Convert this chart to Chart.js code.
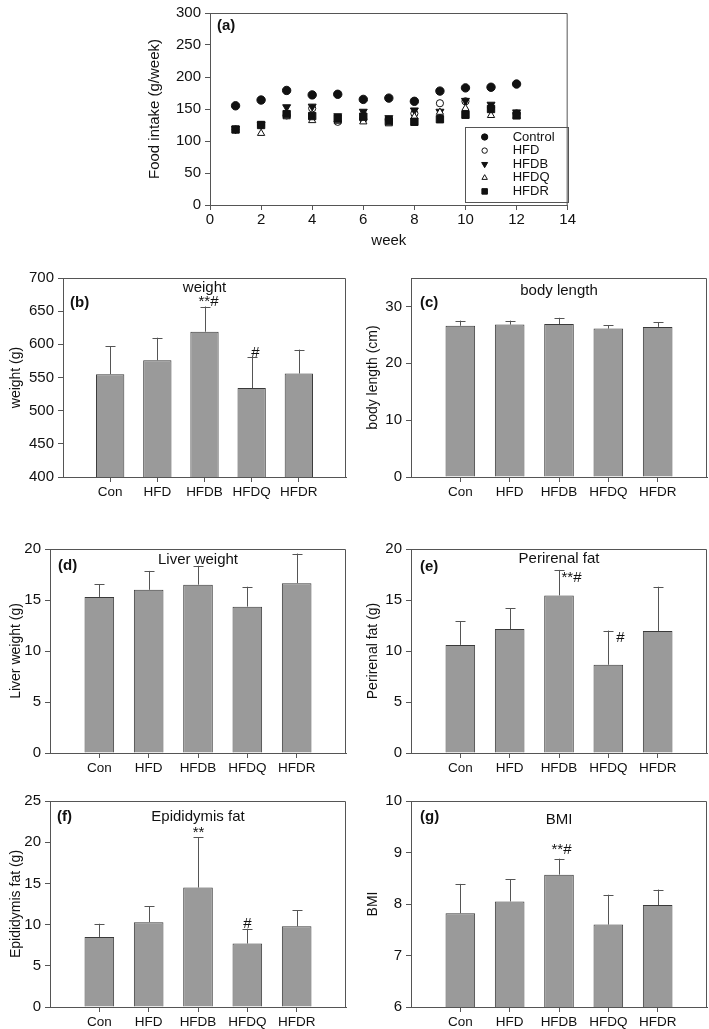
<!DOCTYPE html>
<html>
<head>
<meta charset="utf-8">
<script src="https://cdn.jsdelivr.net/npm/chart.js@4.4.1/dist/chart.umd.min.js"></script>
<style>
body { margin: 0; background: #fff; width: 709px; height: 1029px; position: relative; overflow: hidden; }
canvas { position: absolute; }
</style>
</head>
<body>
<canvas id="chartA" width="447" height="255" style="left:130px;top:0px"></canvas>
<canvas id="chartB" width="350" height="250" style="left:0px;top:265px"></canvas>
<canvas id="chartC" width="354" height="250" style="left:355px;top:265px"></canvas>
<canvas id="chartD" width="350" height="245" style="left:0px;top:536px"></canvas>
<canvas id="chartE" width="354" height="245" style="left:355px;top:536px"></canvas>
<canvas id="chartF" width="350" height="241" style="left:0px;top:788px"></canvas>
<canvas id="chartG" width="354" height="241" style="left:355px;top:788px"></canvas>
<script>
// food intake per week (a)
const weeks   = [1, 2, 3, 4, 5, 6, 7, 8, 9, 10, 11, 12];
const control = [155, 164, 179, 172, 173, 165, 167, 162, 178, 183, 184, 189];
const hfd     = [118, 125, 140, 151, 130, 134, 133, 143, 159, 162, 152, 143];
const hfdb    = [119, 126, 153, 154, 139, 146, 136, 148, 146, 163, 157, 145];
const hfdq    = [117, 112, 138, 132, 131, 130, 127, 138, 145, 151, 140, 139];
const hfdr    = [118, 125, 142, 139, 135, 138, 131, 130, 134, 141, 150, 140];

// bar panels (b)-(g)
const groups = ['Con', 'HFD', 'HFDB', 'HFDQ', 'HFDR'];
const weightMean = [555, 576, 619, 534, 556];
const weightSd   = [42, 34, 38, 47, 36];
const weightSig  = ['', '', '**#', '#', ''];
const lengthMean = [26.6, 26.8, 26.9, 26.1, 26.4];
const lengthSd   = [0.9, 0.7, 1.1, 0.6, 0.8];
const liverMean  = [15.3, 16.0, 16.5, 14.35, 16.65];
const liverSd    = [1.25, 1.85, 1.85, 1.95, 2.9];
const periMean   = [10.6, 12.15, 15.45, 8.65, 11.95];
const periSd     = [2.3, 2.05, 2.5, 3.35, 4.35];
const periSig    = ['', '', '**#', '#', ''];
const epiMean    = [8.5, 10.3, 14.5, 7.7, 9.8];
const epiSd      = [1.6, 1.95, 6.1, 1.8, 1.95];
const epiSig     = ['', '', '**', '#', ''];
const bmiMean    = [7.82, 8.05, 8.57, 7.6, 7.98];
const bmiSd      = [0.57, 0.43, 0.31, 0.58, 0.3];
const bmiSig     = ['', '', '**#', '', ''];

const FONT = '"Liberation Sans", Arial, sans-serif';
const AXIS = '#555';
Chart.defaults.font.family = FONT;
Chart.defaults.color = '#111';
Chart.defaults.animation = false;

function pad(arr) {
    return [null, ...arr, null];
}

// box top + right lines
const frame = {
    id: 'frame',
    afterDraw(chart) {
        const { ctx, chartArea: a } = chart;
        ctx.save();
        ctx.strokeStyle = AXIS;
        ctx.lineWidth = 1;
        ctx.beginPath();
        ctx.moveTo(a.left, a.top + 0.5);
        ctx.lineTo(a.right - 0.5, a.top + 0.5);
        ctx.lineTo(a.right - 0.5, a.bottom);
        ctx.stroke();
        ctx.restore();
    }
};

// panel tag "(x)" and title inside plot
const panelText = {
    id: 'panelText',
    afterDraw(chart, args, opts) {
        const { ctx, chartArea: a } = chart;
        ctx.save();
        ctx.fillStyle = '#111';
        ctx.textBaseline = 'middle';
        ctx.font = 'bold 15px ' + FONT;
        ctx.textAlign = 'left';
        ctx.fillText(opts.tag, a.left + opts.tagX, a.top + opts.tagY);
        if (opts.title) {
            ctx.font = '15px ' + FONT;
            ctx.textAlign = 'center';
            ctx.fillText(opts.title, (a.left + a.right) / 2 + (opts.titleX || 0), a.top + opts.titleY);
        }
        ctx.restore();
    }
};

// upper error bars + significance marks
const errorBars = {
    id: 'errorBars',
    afterDatasetsDraw(chart, args, opts) {
        const ctx = chart.ctx;
        const ys = chart.scales.y;
        const vals = chart.data.datasets[0].data;
        const meta = chart.getDatasetMeta(0);
        ctx.save();
        ctx.strokeStyle = AXIS;
        ctx.lineWidth = 1;
        meta.data.forEach((bar, i) => {
            if (vals[i] == null) return;
            const x = Math.round(bar.x) + 0.5;
            const top = ys.getPixelForValue(vals[i] + opts.sd[i]);
            ctx.beginPath();
            ctx.moveTo(x, bar.y);
            ctx.lineTo(x, top);
            ctx.moveTo(x - 5, Math.round(top) + 0.5);
            ctx.lineTo(x + 5, Math.round(top) + 0.5);
            ctx.stroke();
            const mark = opts.marks ? opts.marks[i] : '';
            if (mark) {
                ctx.fillStyle = '#111';
                ctx.font = '15px ' + FONT;
                ctx.textAlign = 'center';
                ctx.textBaseline = 'bottom';
                ctx.fillText(mark, x + opts.dx, top + 3 + opts.dy);
            }
        });
        ctx.restore();
    }
};

function barChart(id, mean, sd, marks, s) {
    const labels = pad(groups).map(g => g || '');
    new Chart(document.getElementById(id), {
        type: 'bar',
        data: {
            labels: labels,
            datasets: [{
                data: pad(mean),
                backgroundColor: '#9a9a9a',
                borderColor: '#3a3a3a',
                borderWidth: 1,
                categoryPercentage: 1,
                barPercentage: 0.6
            }]
        },
        options: {
            responsive: false,
            animation: false,
            layout: { padding: { top: s.top, right: s.right, left: 0, bottom: 0 } },
            plugins: {
                legend: { display: false },
                tooltip: { enabled: false },
                errorBars: { sd: pad(sd), marks: pad(marks), dx: s.dx || 0, dy: s.dy || 0 },
                panelText: { tag: s.tag, tagX: s.tagX, tagY: s.tagY, title: s.title, titleY: s.titleY }
            },
            scales: {
                x: {
                    offset: false,
                    grid: {
                        offset: false,
                        display: true, drawOnChartArea: false, drawTicks: true, tickLength: 5,
                        color: c => (c.index === 0 || c.index === labels.length - 1) ? 'rgba(0,0,0,0)' : AXIS
                    },
                    border: { display: true, color: AXIS },
                    ticks: { autoSkip: false, maxRotation: 0, padding: 2, font: { size: 13.5 }, color: '#111' },
                    afterFit(scale) { scale.height = s.xh; }
                },
                y: {
                    min: s.min,
                    max: s.max,
                    grid: { display: true, drawOnChartArea: false, drawTicks: true, tickLength: 5, color: AXIS },
                    border: { display: true, color: AXIS },
                    ticks: { stepSize: s.step, includeBounds: false, padding: 4, font: { size: 15 }, color: '#111' },
                    title: { display: true, text: s.ytitle, font: { size: 14 }, color: '#111', padding: { top: s.ytp, bottom: 0 } },
                    afterFit(scale) { scale.width = s.yw; }
                }
            }
        },
        plugins: [errorBars, panelText, frame]
    });
}

// (a) scatter
const pointLegend = {
    id: 'pointLegend',
    afterDraw(chart) {
        const { ctx, chartArea: a } = chart;
        const w = 103, h = 75;
        const x0 = a.right - w, y0 = a.bottom - 3 - h;
        ctx.save();
        ctx.fillStyle = '#fff';
        ctx.fillRect(x0, y0, w, h);
        ctx.strokeStyle = AXIS;
        ctx.lineWidth = 1;
        ctx.strokeRect(Math.round(x0) + 0.5, Math.round(y0) + 0.5, w, h);
        chart.data.datasets.forEach((ds, i) => {
            const y = y0 + 10 + i * 13.6;
            ctx.fillStyle = ds.pointBackgroundColor;
            ctx.strokeStyle = ds.pointBorderColor;
            ctx.lineWidth = ds.pointBorderWidth;
            Chart.helpers.drawPoint(ctx, {
                pointStyle: ds.pointStyle,
                rotation: ds.pointRotation || 0,
                radius: ds.pointRadius * 0.75,
                borderWidth: ds.pointBorderWidth
            }, x0 + 20, y);
            ctx.fillStyle = '#111';
            ctx.font = '13px ' + FONT;
            ctx.textAlign = 'left';
            ctx.textBaseline = 'middle';
            ctx.fillText(ds.label, x0 + 48, y);
        });
        ctx.restore();
    }
};

function series(label, vals, style, order) {
    return Object.assign({
        label: label,
        data: weeks.map((w, i) => ({ x: w, y: vals[i] })),
        order: order,
        pointBorderColor: '#111',
        pointBorderWidth: 1
    }, style);
}

new Chart(document.getElementById('chartA'), {
    type: 'scatter',
    data: {
        datasets: [
            series('Control', control, { pointStyle: 'circle', pointRadius: 4.2, pointBackgroundColor: '#111' }, 4),
            series('HFD', hfd, { pointStyle: 'circle', pointRadius: 3.6, pointBackgroundColor: '#fff' }, 3),
            series('HFDB', hfdb, { pointStyle: 'triangle', pointRotation: 180, pointRadius: 4.6, pointBackgroundColor: '#111' }, 2),
            series('HFDQ', hfdq, { pointStyle: 'triangle', pointRadius: 4.2, pointBackgroundColor: '#fff' }, 1),
            series('HFDR', hfdr, { pointStyle: 'rect', pointRadius: 5.2, pointBackgroundColor: '#111' }, 0)
        ]
    },
    options: {
        responsive: false,
        animation: false,
        layout: { padding: { top: 5, right: 3, left: 0, bottom: 0 } },
        plugins: {
            legend: { display: false },
            tooltip: { enabled: false },
            panelText: { tag: '(a)', tagX: 7, tagY: 13 }
        },
        scales: {
            x: {
                type: 'linear',
                min: 0,
                max: 14,
                grid: { display: true, drawOnChartArea: false, drawTicks: true, tickLength: 5, color: AXIS },
                border: { display: true, color: AXIS },
                ticks: { stepSize: 2, padding: 1, font: { size: 15 }, color: '#111' },
                title: { display: true, text: 'week', font: { size: 15 }, color: '#111', padding: { top: 0, bottom: 5 } },
                afterFit(scale) { scale.height = 50; }
            },
            y: {
                min: 0,
                max: 300,
                grid: { display: true, drawOnChartArea: false, drawTicks: true, tickLength: 5, color: AXIS },
                border: { display: true, color: AXIS },
                ticks: { stepSize: 50, padding: 4, font: { size: 15 }, color: '#111' },
                title: { display: true, text: 'Food intake (g/week)', font: { size: 15 }, color: '#111', padding: { top: 16, bottom: 0 } },
                afterFit(scale) { scale.width = 80; }
            }
        }
    },
    plugins: [pointLegend, panelText, frame]
});

barChart('chartB', weightMean, weightSd, weightSig, {
    top: 7, right: 4, yw: 63, xh: 38, min: 400, max: 700, step: 50, ytitle: 'weight (g)', ytp: 8,
    tag: '(b)', tagX: 7, tagY: 25, title: 'weight', titleY: 10, dx: 3, dy: 0
});
barChart('chartC', lengthMean, lengthSd, [], {
    top: 7, right: 2, yw: 56, xh: 38, min: 0, max: 35, step: 10, ytitle: 'body length (cm)', ytp: 10,
    tag: '(c)', tagX: 9, tagY: 25, title: 'body length', titleY: 13
});
barChart('chartD', liverMean, liverSd, [], {
    top: 10, right: 4, yw: 50, xh: 28, min: 0, max: 20, step: 5, ytitle: 'Liver weight (g)', ytp: 8,
    tag: '(d)', tagX: 8, tagY: 17, title: 'Liver weight', titleY: 11
});
barChart('chartE', periMean, periSd, periSig, {
    top: 11, right: 2, yw: 56, xh: 28, min: 0, max: 20, step: 5, ytitle: 'Perirenal fat (g)', ytp: 10,
    tag: '(e)', tagX: 9, tagY: 18, title: 'Perirenal fat', titleY: 10, dx: 12, dy: 12
});
barChart('chartF', epiMean, epiSd, epiSig, {
    top: 12, right: 4, yw: 50, xh: 22, min: 0, max: 25, step: 5, ytitle: 'Epididymis fat (g)', ytp: 8,
    tag: '(f)', tagX: 7, tagY: 16, title: 'Epididymis fat', titleY: 16, dx: 0, dy: 0
});
barChart('chartG', bmiMean, bmiSd, bmiSig, {
    top: 13, right: 2, yw: 56, xh: 22, min: 6, max: 10, step: 1, ytitle: 'BMI', ytp: 10,
    tag: '(g)', tagX: 9, tagY: 16, title: 'BMI', titleY: 19, dx: 2, dy: -4
});
</script>
</body>
</html>
